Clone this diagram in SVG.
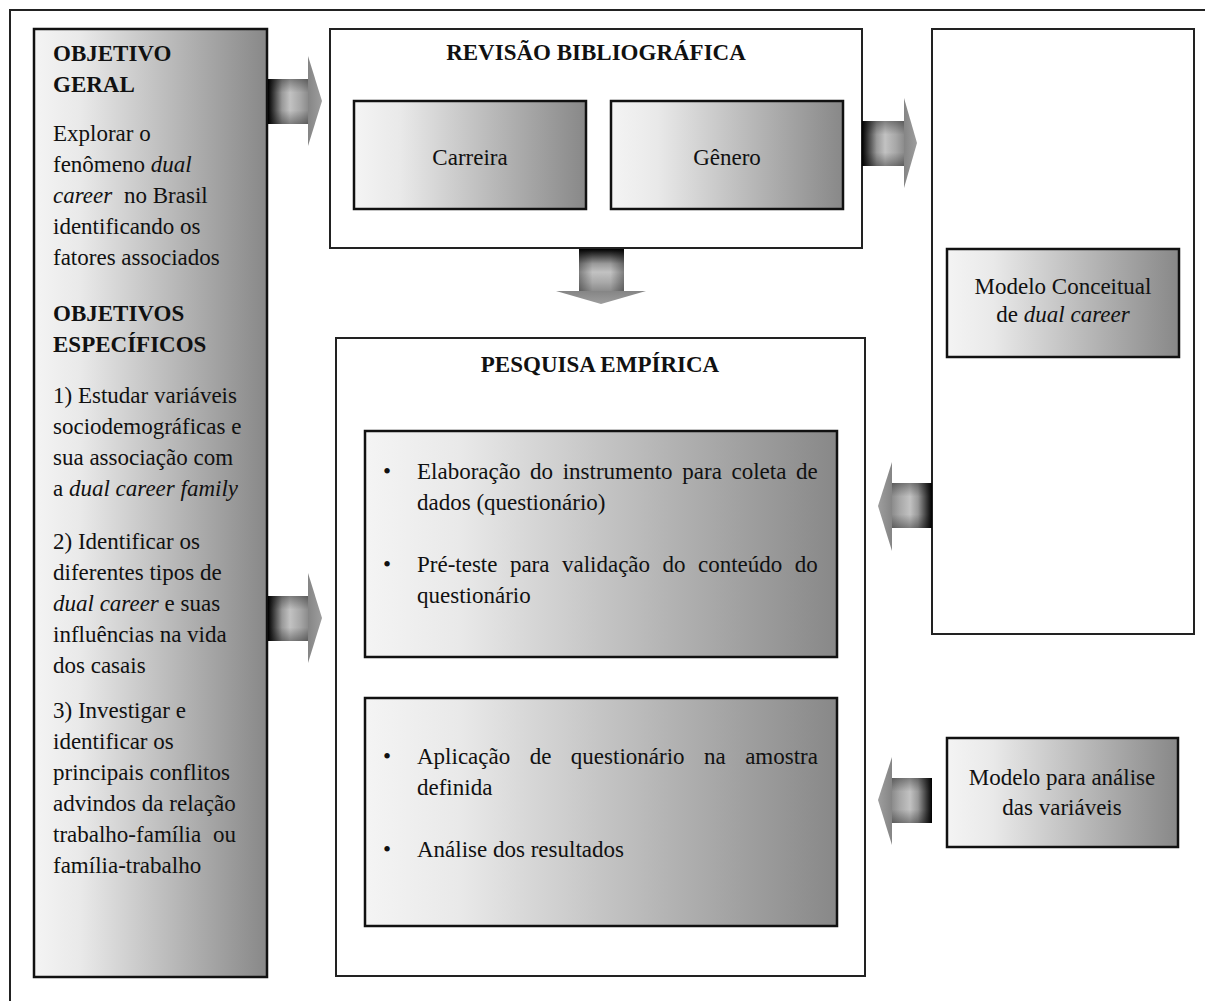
<svg xmlns="http://www.w3.org/2000/svg" width="1205" height="1001" viewBox="0 0 1205 1001">
<defs>
<style>
text{font-family:"Liberation Serif","Times New Roman",serif;font-size:23px;fill:#111}
.b{font-weight:bold}
.i{font-style:italic}
.m{text-anchor:middle}
.frame{fill:#fff;stroke:#222;stroke-width:2}
.gbox{fill:url(#gBox);stroke:#111;stroke-width:2.5}
.head{stroke:none}
</style>
<linearGradient id="gBox" x1="0" y1="0" x2="1" y2="0">
<stop offset="0" stop-color="#f4f4f4"/>
<stop offset="0.2" stop-color="#e9e9e9"/>
<stop offset="1" stop-color="#888"/>
</linearGradient>
<linearGradient id="gBodyR" x1="0" y1="0" x2="1" y2="0">
<stop offset="0" stop-color="#000"/>
<stop offset="0.12" stop-color="#333"/>
<stop offset="0.35" stop-color="#999"/>
<stop offset="0.55" stop-color="#c2c2c2"/>
<stop offset="0.8" stop-color="#a8a8a8"/>
<stop offset="1" stop-color="#8c8c8c"/>
</linearGradient>
<linearGradient id="gBodyL" x1="1" y1="0" x2="0" y2="0">
<stop offset="0" stop-color="#000"/>
<stop offset="0.12" stop-color="#333"/>
<stop offset="0.35" stop-color="#999"/>
<stop offset="0.55" stop-color="#c2c2c2"/>
<stop offset="0.8" stop-color="#a8a8a8"/>
<stop offset="1" stop-color="#8c8c8c"/>
</linearGradient>
<linearGradient id="gBodyD" x1="0" y1="0" x2="0" y2="1">
<stop offset="0" stop-color="#000"/>
<stop offset="0.12" stop-color="#333"/>
<stop offset="0.35" stop-color="#999"/>
<stop offset="0.55" stop-color="#c2c2c2"/>
<stop offset="0.8" stop-color="#a8a8a8"/>
<stop offset="1" stop-color="#8c8c8c"/>
</linearGradient>
<linearGradient id="shV" x1="0" y1="0" x2="0" y2="1">
<stop offset="0" stop-color="#000" stop-opacity="0.35"/>
<stop offset="0.3" stop-color="#000" stop-opacity="0"/>
<stop offset="0.7" stop-color="#000" stop-opacity="0"/>
<stop offset="1" stop-color="#000" stop-opacity="0.35"/>
</linearGradient>
<linearGradient id="shH" x1="0" y1="0" x2="1" y2="0">
<stop offset="0" stop-color="#000" stop-opacity="0.35"/>
<stop offset="0.3" stop-color="#000" stop-opacity="0"/>
<stop offset="0.7" stop-color="#000" stop-opacity="0"/>
<stop offset="1" stop-color="#000" stop-opacity="0.35"/>
</linearGradient>
<linearGradient id="gHeadR" x1="0" y1="0" x2="1" y2="0">
<stop offset="0" stop-color="#858585"/>
<stop offset="1" stop-color="#9e9e9e"/>
</linearGradient>
<linearGradient id="gHeadL" x1="1" y1="0" x2="0" y2="0">
<stop offset="0" stop-color="#858585"/>
<stop offset="1" stop-color="#9e9e9e"/>
</linearGradient>
<linearGradient id="gHeadD" x1="0" y1="0" x2="0" y2="1">
<stop offset="0" stop-color="#858585"/>
<stop offset="1" stop-color="#9e9e9e"/>
</linearGradient>
</defs>

<rect x="10" y="10" width="1210" height="1010" fill="#fff" stroke="#222" stroke-width="2"/>

<g id="objetivos">
<rect x="34" y="29" width="233" height="948" class="gbox"/>
<text class="b" x="53" y="61">OBJETIVO</text>
<text class="b" x="53" y="92">GERAL</text>
<text x="53" y="141">Explorar o</text>
<text x="53" y="172">fenômeno <tspan class="i">dual</tspan></text>
<text x="53" y="203"><tspan class="i">career</tspan><tspan x="124">no Brasil</tspan></text>
<text x="53" y="234">identificando os</text>
<text x="53" y="265">fatores associados</text>
<text class="b" x="53" y="321">OBJETIVOS</text>
<text class="b" x="53" y="352">ESPECÍFICOS</text>
<text x="53" y="403">1) Estudar variáveis</text>
<text x="53" y="434">sociodemográficas e</text>
<text x="53" y="465">sua associação com</text>
<text x="53" y="496">a <tspan class="i">dual career family</tspan></text>
<text x="53" y="549">2) Identificar os</text>
<text x="53" y="580">diferentes tipos de</text>
<text x="53" y="611"><tspan class="i">dual career</tspan> e suas</text>
<text x="53" y="642">influências na vida</text>
<text x="53" y="673">dos casais</text>
<text x="53" y="718">3) Investigar e</text>
<text x="53" y="749">identificar os</text>
<text x="53" y="780">principais conflitos</text>
<text x="53" y="811">advindos da relação</text>
<text x="53" y="842">trabalho-família<tspan x="213">ou</tspan></text>
<text x="53" y="873">família-trabalho</text>
</g>

<g id="revisao">
<rect x="330" y="29" width="532" height="219" class="frame"/>
<text class="b m" x="596" y="60">REVISÃO BIBLIOGRÁFICA</text>
</g>
<g id="carreira">
<rect x="354" y="101" width="232" height="108" class="gbox"/>
<text class="m" x="470" y="165">Carreira</text>
</g>
<g id="genero">
<rect x="611" y="101" width="232" height="108" class="gbox"/>
<text class="m" x="727" y="165">Gênero</text>
</g>

<g id="modelo-conceitual-frame">
<rect x="932" y="29" width="262" height="605" class="frame"/>
</g>
<g id="modelo-conceitual">
<rect x="947" y="249" width="232" height="108" class="gbox"/>
<text class="m" x="1063" y="294">Modelo Conceitual</text>
<text class="m" x="1063" y="322">de <tspan class="i">dual career</tspan></text>
</g>

<g id="pesquisa">
<rect x="336" y="338" width="529" height="638" class="frame"/>
<text class="b m" x="600" y="372">PESQUISA EMPÍRICA</text>
</g>
<g id="etapa1">
<rect x="365" y="431" width="472" height="226" class="gbox"/>
<text x="383" y="479">•</text>
<text x="417" y="479" word-spacing="3.9">Elaboração do instrumento para coleta de</text>
<text x="417" y="510">dados (questionário)</text>
<text x="383" y="572">•</text>
<text x="417" y="572" word-spacing="6.7">Pré-teste para validação do conteúdo do</text>
<text x="417" y="603">questionário</text>
</g>
<g id="etapa2">
<rect x="365" y="698" width="472" height="228" class="gbox"/>
<text x="383" y="764">•</text>
<text x="417" y="764" word-spacing="13.7">Aplicação de questionário na amostra</text>
<text x="417" y="795">definida</text>
<text x="383" y="857">•</text>
<text x="417" y="857">Análise dos resultados</text>
</g>

<g id="modelo-analise">
<rect x="947" y="738" width="231" height="109" class="gbox"/>
<text class="m" x="1062" y="785">Modelo para análise</text>
<text class="m" x="1062" y="815">das variáveis</text>
</g>

<g id="connectors">
<g id="arrow-obj-rev">
<rect x="268" y="79" width="40" height="45" fill="url(#gBodyR)"/>
<rect x="268" y="79" width="40" height="45" fill="url(#shV)"/>
<polygon points="308,56 322,101 308,146" fill="url(#gHeadR)" class="head"/>
</g>
<g id="arrow-rev-modelo">
<rect x="862" y="121" width="42" height="45" fill="url(#gBodyR)"/>
<rect x="862" y="121" width="42" height="45" fill="url(#shV)"/>
<polygon points="904,98 917,143 904,188" fill="url(#gHeadR)" class="head"/>
</g>
<g id="arrow-rev-pesq">
<rect x="579" y="249" width="45" height="42" fill="url(#gBodyD)"/>
<rect x="579" y="249" width="45" height="42" fill="url(#shH)"/>
<polygon points="556,291 601,304 646,291" fill="url(#gHeadD)" class="head"/>
</g>
<g id="arrow-obj-pesq">
<rect x="268" y="596" width="40" height="45" fill="url(#gBodyR)"/>
<rect x="268" y="596" width="40" height="45" fill="url(#shV)"/>
<polygon points="308,573 322,618 308,663" fill="url(#gHeadR)" class="head"/>
</g>
<g id="arrow-modelo-pesq">
<rect x="892" y="483" width="40" height="45" fill="url(#gBodyL)"/>
<rect x="892" y="483" width="40" height="45" fill="url(#shV)"/>
<polygon points="892,462 878,506 892,551" fill="url(#gHeadL)" class="head"/>
</g>
<g id="arrow-analise-pesq">
<rect x="892" y="778" width="40" height="45" fill="url(#gBodyL)"/>
<rect x="892" y="778" width="40" height="45" fill="url(#shV)"/>
<polygon points="892,757 878,800 892,845" fill="url(#gHeadL)" class="head"/>
</g>
</g>
</svg>
